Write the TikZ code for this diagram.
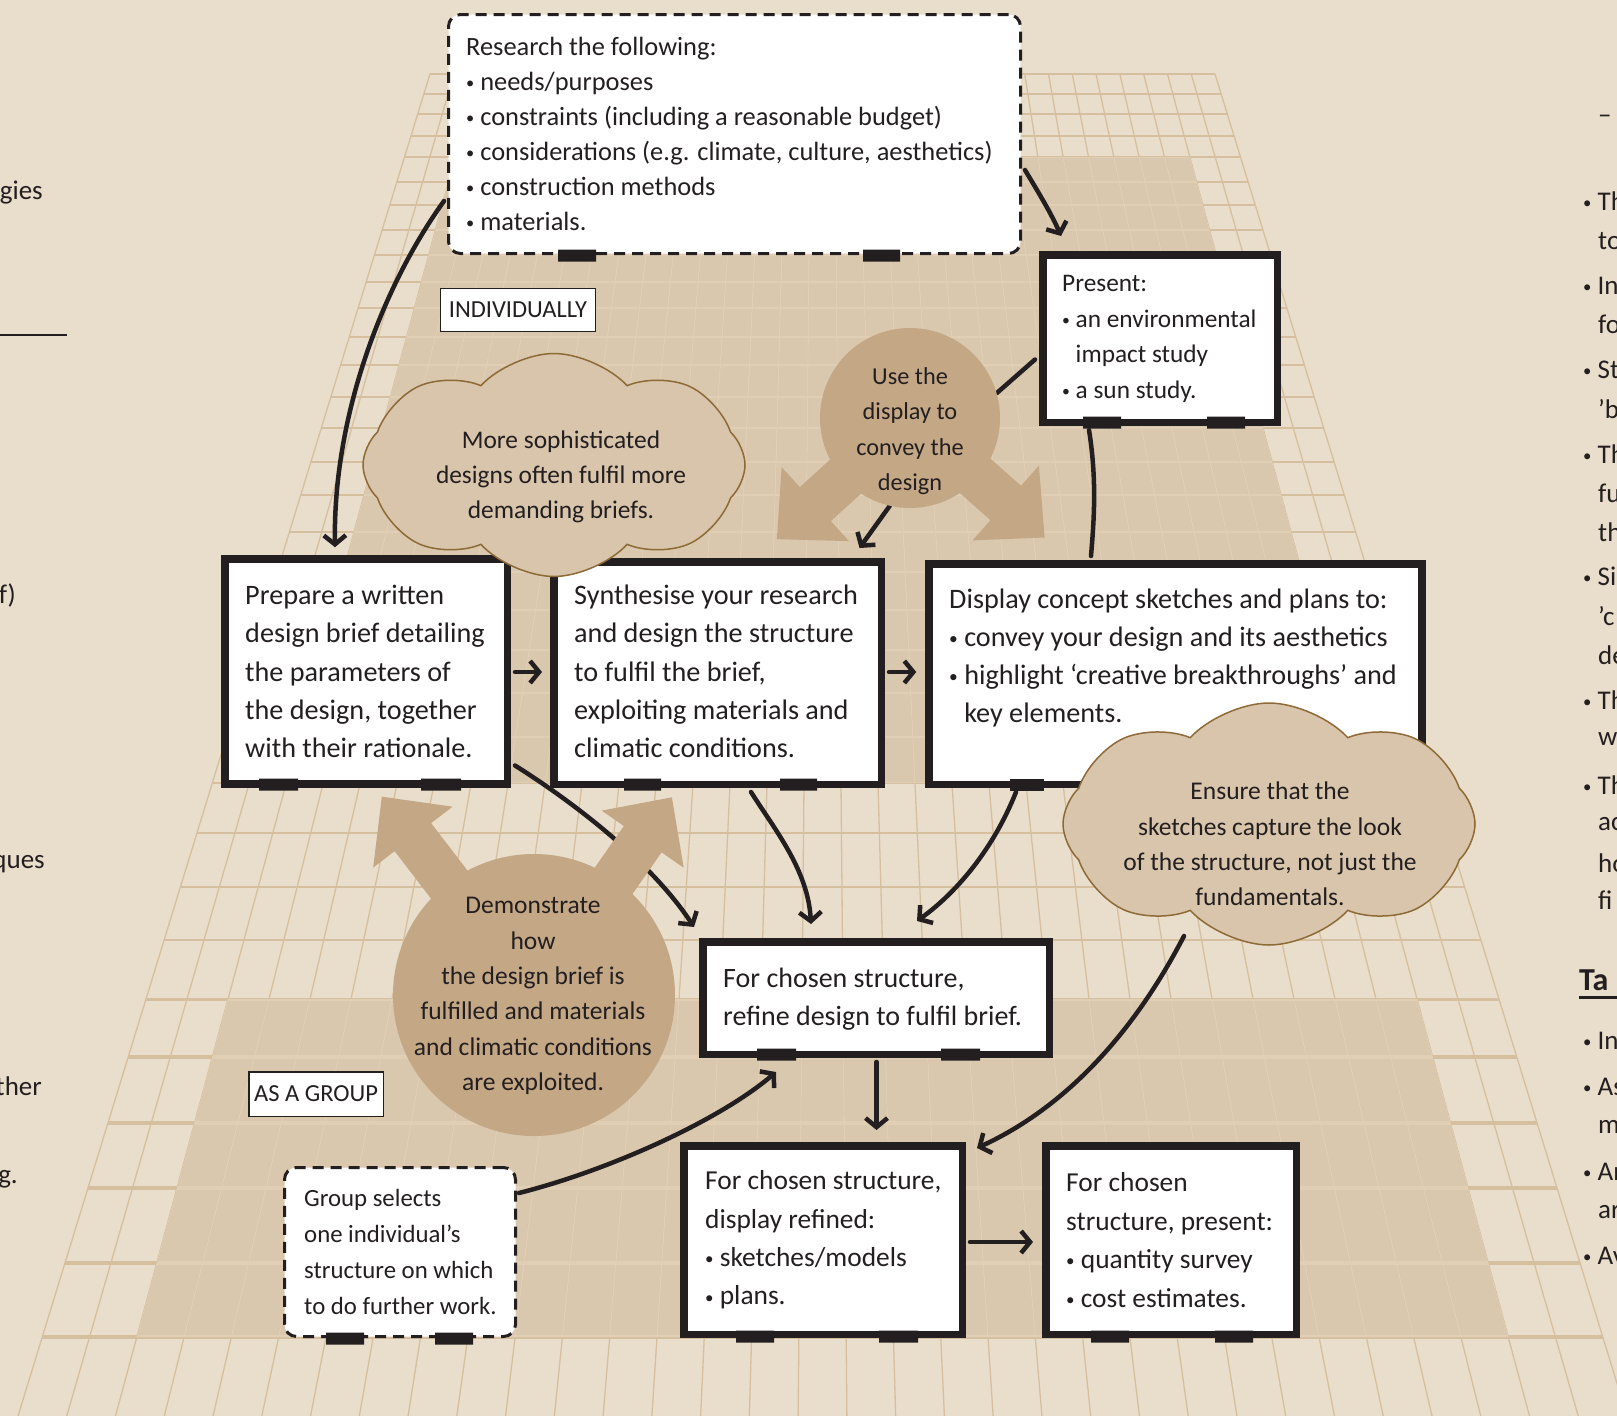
\documentclass[tikz,border=0pt]{standalone}
\usepackage{fontspec}
\setmainfont{Carlito}
\usetikzlibrary{arrows.meta,shapes.symbols,calc}
\definecolor{bg}{HTML}{E9DDCB}
\definecolor{gridc}{HTML}{D6BF9F}
\definecolor{gridl}{HTML}{E0CEB5}
\definecolor{shadec}{HTML}{D9C7AE}
\definecolor{circf}{HTML}{C4A785}
\definecolor{cloudf}{HTML}{D8C5AB}
\definecolor{cloudd}{HTML}{8E6A36}
\definecolor{ink}{HTML}{231F20}
\newcommand{\fs}[2]{\fontsize{#1pt}{#2pt}\selectfont}
\newcommand{\bul}{\raisebox{0.07em}{\scalebox{0.62}{\textbullet}}\ }
\tikzset{
  box/.style={draw=ink, line width=7.5pt, fill=white, inner sep=0pt, rectangle},
  dbox/.style={draw=ink, line width=3pt, dash pattern=on 11pt off 7pt, fill=white, rounded corners=12pt, inner sep=0pt, rectangle},
  tag/.style={draw=ink, line width=1.5pt, fill=white, inner sep=0pt, text=ink, font=\fs{24.5}{26}},
  conn/.style={draw=ink, line width=4.5pt, line cap=round, -{Straight Barb[length=9pt,width=22pt]}},
  link/.style={draw=ink, line width=4.5pt, line cap=round},
  txt/.style={inner sep=0pt, align=left, text=ink, anchor=west},
  ctxt/.style={inner sep=0pt, align=center, text=ink},
  side/.style={inner sep=0pt, text=ink, font=\fs{27}{32}},
  puff/.style={cloud, cloud puffs=8, cloud puff arc=95, cloud ignores aspect, fill=cloudf, draw=cloudd, line width=1.5pt, inner sep=0pt},
  disc/.style={circle, fill=circf, inner sep=0pt}
}
\begin{document}
\begin{tikzpicture}[x=1pt,y=-1pt]
\useasboundingbox (0,0) rectangle (1617,1416);
\clip (0,0) rectangle (1617,1416);
% background and floor grid
\fill[bg] (0,0) rectangle (1617,1416);
\fill[shadec] (455.2,157) -- (1189.9,157) -- (1358.8,783) -- (286.3,783) -- cycle;
\fill[shadec] (228,999) -- (1417.1,999) -- (1508.3,1337) -- (136.8,1337) -- cycle;
\foreach \i in {0,...,33}{
  \pgfmathsetmacro\xt{430+\i*23.788}
  \pgfmathsetmacro\xb{18+\i*48.758}
  \draw[gridc,line width=1.3pt] (\xt,74) -- (\xb,1416);
}
\foreach \yy in {74,94,114,136,157,182,205,230,255,282,308,337,365,397,428,462,495,532,572,610,650,693,737,783,833,887,940,999,1057,1123,1188,1263,1337}{
  \pgfmathsetmacro\xl{430-0.307*(\yy-74)}
  \pgfmathsetmacro\xr{1215+0.307*(\yy-74)}
  \pgfmathsetmacro\lw{1.6+0.00149*(\yy-74)}
  \draw[gridc,line width=\lw pt] (\xl,\yy) -- (\xr,\yy);
}
\begin{scope}
  \clip (455.2,157) -- (1189.9,157) -- (1358.8,783) -- (286.3,783) -- cycle
        (228,999) -- (1417.1,999) -- (1508.3,1337) -- (136.8,1337) -- cycle;
  \foreach \i in {0,...,33}{
    \pgfmathsetmacro\xt{430+\i*23.788}
    \pgfmathsetmacro\xb{18+\i*48.758}
    \draw[gridl,line width=1.3pt] (\xt,74) -- (\xb,1416);
  }
  \foreach \yy in {157,182,205,230,255,282,308,337,365,397,428,462,495,532,572,610,650,693,737,783,999,1057,1123,1188,1263,1337}{
    \pgfmathsetmacro\xl{430-0.307*(\yy-74)}
    \pgfmathsetmacro\xr{1215+0.307*(\yy-74)}
    \pgfmathsetmacro\lw{1.6+0.00149*(\yy-74)}
    \draw[gridl,line width=\lw pt] (\xl,\yy) -- (\xr,\yy);
  }
\end{scope}

% boxes
\node[dbox, minimum width=572pt, minimum height=239pt] (research) at (734.5,134) {};
\node[box, minimum width=234.5pt, minimum height=167.5pt] (present) at (1160,338.5) {};
\node[box, minimum width=282.5pt, minimum height=225pt] (prep) at (366,671.5) {};
\node[box, minimum width=327.5pt, minimum height=222.5pt] (synth) at (717.5,673) {};
\node[box, minimum width=493pt, minimum height=220.5pt] (display) at (1175.5,674) {};
\node[box, minimum width=346.5pt, minimum height=112.5pt] (refine) at (876,998) {};
\node[box, minimum width=278.5pt, minimum height=188.5pt] (disref) at (823,1240) {};
\node[box, minimum width=250.5pt, minimum height=188.5pt] (final) at (1171,1240) {};
\node[dbox, minimum width=231pt, minimum height=169pt] (group) at (400,1252) {};
\node[tag, minimum width=155pt, minimum height=43pt] (indiv) at (518,310) {INDIVIDUALLY};
\node[tag, minimum width=134.5pt, minimum height=44.5pt] (asgroup) at (316,1094) {AS A GROUP};

% tabs on box bottoms
\fill[ink] (558,249.5) rectangle (596,261.5) (863,249.5) rectangle (900,261.5);
\fill[ink] (1083,416.5) rectangle (1121,428.5) (1207,416.5) rectangle (1245,428.5);
\fill[ink] (259,778.5) rectangle (298,790.5) (421,778.5) rectangle (461,790.5);
\fill[ink] (624,778.5) rectangle (661,790.5) (780,778.5) rectangle (817,790.5);
\fill[ink] (1010,778.5) rectangle (1044,790.5);
\fill[ink] (757,1048.5) rectangle (796,1060.5) (941,1048.5) rectangle (980,1060.5);
\fill[ink] (736,1330.5) rectangle (774,1342.5) (879,1330.5) rectangle (918,1342.5);
\fill[ink] (1091,1330.5) rectangle (1129,1342.5) (1215,1330.5) rectangle (1253,1342.5);
\fill[ink] (326,1332.5) rectangle (364,1344.5) (435,1332.5) rectangle (473,1344.5);

% circle and cloud nodes (defined for anchors, drawn later on top)
\path (910,418) node[disc, minimum size=180pt, fill=none] (circ1) {};
\path (534,995) node[disc, minimum size=282pt, fill=none] (circ2) {};
\path (554,465) node[puff, minimum width=382pt, minimum height=223pt, fill=none, draw=none] (cloud1) {};
\path (1269,824) node[puff, minimum width=412pt, minimum height=242pt, fill=none, draw=none] (cloud2) {};

% connectors
\draw[conn] ($(research.west)+(-3,67)$) .. controls (380,290) and (333,420) .. ($(prep.north)+(-31,-8)$);
\draw[conn] ($(research.east)+(3,36)$) .. controls (1040,195) and (1052,215) .. ($(present.north)+(-99,-15)$);
\draw[link] ($(present.west)+(-4,21)$) -- (circ1.16);
\draw[conn] (circ1.-103) -- ($(synth.north)+(142,-10)$);
\draw[link] ($(present.south)+(-71,4)$) .. controls (1097,480) and (1094,520) .. ($(display.north)+(-84.5,-4)$);
\draw[conn] ($(prep.east)+(4,0.5)$) -- ($(synth.west)+(-8,-1)$);
\draw[conn] ($(synth.east)+(4,-1)$) -- ($(display.west)+(-9,-2)$);
\draw[conn] ($(prep.east)+(4,94)$) .. controls (570,800) and (650,860) .. ($(refine.north west)+(-5,-11)$);
\draw[conn] ($(synth.south)+(33.5,4)$) .. controls (775,830) and (808,870) .. ($(refine.north)+(-65,-14)$);
\draw[conn] ($(display.south)+(-159.5,4)$) .. controls (995,845) and (960,890) .. ($(refine.north)+(41,-17)$);
\draw[conn] ($(refine.south)+(0.5,4)$) -- ($(disref.north)+(53.5,-12)$);
\draw[conn] ($(cloud2.center)+(-85,112)$) .. controls (1130,1040) and (1060,1110) .. ($(disref.north east)+(11,6)$);
\draw[conn] ($(disref.east)+(4,2)$) -- ($(final.west)+(-9,2)$);
\draw[conn] ($(group.east)+(2,-59)$) .. controls (610,1170) and (720,1120) .. ($(refine.south)+(-100,14)$);

% discs with broad arrows
\node[disc, minimum size=180pt] at (circ1.center) {};
\fill[circf, shift={(910,418)}, rotate=-137.7] (0,-23) -- (128,-23) -- (128,-50) -- (180,0) -- (128,50) -- (128,23) -- (0,23) -- cycle;
\fill[circf, shift={(910,418)}, rotate=-41.6] (0,-23) -- (128,-23) -- (128,-50) -- (180,0) -- (128,50) -- (128,23) -- (0,23) -- cycle;
\node[disc, minimum size=282pt] at (circ2.center) {};
\fill[circf, shift={(534,995)}, rotate=127.5] (0,-23) -- (199,-23) -- (199,-50) -- (250,0) -- (199,50) -- (199,23) -- (0,23) -- cycle;
\fill[circf, shift={(534,995)}, rotate=55.1] (0,-23) -- (190,-23) -- (190,-50) -- (241,0) -- (190,50) -- (190,23) -- (0,23) -- cycle;

% clouds
\node[puff, minimum width=382pt, minimum height=223pt] at (cloud1.center) {};
\node[puff, minimum width=412pt, minimum height=242pt] at (cloud2.center) {};

% texts
\node[txt, font=\fs{26.4}{35}] (researchtxt) at (466,134) {Research the following:\\ \bul needs/purposes\\ \bul constraints (including a reasonable budget)\\ \bul considerations (e.g. climate, culture, aesthetics)\\ \bul construction methods\\ \bul materials.};
\node[txt, font=\fs{25.3}{35.5}] (presenttxt) at (1062,339) {Present:\\ \bul an environmental\\ \phantom{\bul}impact study\\ \bul a sun study.};
\node[txt, font=\fs{28.2}{38.2}] (preptxt) at (245,671.5) {Prepare a written\\ design brief detailing\\ the parameters of\\ the design, together\\ with their rationale.};
\node[txt, font=\fs{28.2}{38.2}] (synthtxt) at (574,671.5) {Synthesise your research\\ and design the structure\\ to fulfil the brief,\\ exploiting materials and\\ climatic conditions.};
\node[txt, font=\fs{28.2}{38.2}] (displaytxt) at (949,658) {Display concept sketches and plans to:\\ \bul convey your design and its aesthetics\\ \bul highlight ‘creative breakthroughs’ and\\ \phantom{\bul}key elements.};
\node[txt, font=\fs{28}{38}] (refinetxt) at (723,999) {For chosen structure,\\ refine design to fulfil brief.};
\node[txt, font=\fs{27.4}{38.4}] (disreftxt) at (705,1240) {For chosen structure,\\ display refined:\\ \bul sketches/models\\ \bul plans.};
\node[txt, font=\fs{27.4}{38.4}] (finaltxt) at (1066,1240) {For chosen\\ structure, present:\\ \bul quantity survey\\ \bul cost estimates.};
\node[txt, font=\fs{24.8}{35.7}] (grouptxt) at (304,1252) {Group selects\\ one individual’s\\ structure on which\\ to do further work.};
\node[ctxt, font=\fs{25.4}{35}] (cloud1txt) at (561,477) {More sophisticated\\ designs often fulfil more\\ demanding briefs.};
\node[ctxt, font=\fs{25.5}{35.3}] (cloud2txt) at (1270,844) {Ensure that the\\ sketches capture the look\\ of the structure, not just the\\ fundamentals.};
\node[ctxt, font=\fs{24.3}{35.3}] (circ1txt) at (910,431) {Use the\\ display to\\ convey the\\ design};
\node[ctxt, font=\fs{25.5}{35.4}] (circ2txt) at (533,996) {Demonstrate\\ how\\ the design brief is\\ fulfilled and materials\\ and climatic conditions\\ are exploited.};

% page text cut by the frame
\draw[ink, line width=1.5pt] (0,335) -- (67,335);
\node[side, anchor=east] (l1) at (43,193) {gies};
\node[side, anchor=east] (l2) at (16,595) {f)};
\node[side, anchor=east] (l3) at (45,864) {ques};
\node[side, anchor=east] (l4) at (42,1086) {ther};
\node[side, anchor=east] (l5) at (18,1179) {g.};
\node[side, anchor=west] (r0) at (1598,119) {–};
\node[side, anchor=west] (r1) at (1583,201) {\bul Th};
\node[side, anchor=west] (r2) at (1598,241) {to};
\node[side, anchor=west] (r3) at (1583,286) {\bul In};
\node[side, anchor=west] (r4) at (1598,324) {fo};
\node[side, anchor=west] (r5) at (1583,370) {\bul St};
\node[side, anchor=west] (r6) at (1598,409) {'b};
\node[side, anchor=west] (r7) at (1583,454) {\bul Th};
\node[side, anchor=west] (r8) at (1598,493) {fu};
\node[side, anchor=west] (r9) at (1598,532) {th};
\node[side, anchor=west] (r10) at (1583,576) {\bul Si};
\node[side, anchor=west] (r11) at (1598,616) {'c};
\node[side, anchor=west] (r12) at (1598,655) {de};
\node[side, anchor=west] (r13) at (1583,700) {\bul Th};
\node[side, anchor=west] (r14) at (1598,739) {we};
\node[side, anchor=west] (r15) at (1583,785) {\bul Th};
\node[side, anchor=west] (r16) at (1598,824) {ac};
\node[side, anchor=west] (r17) at (1598,863) {ho};
\node[side, anchor=west] (r18) at (1598,900) {fi};
\node[side, anchor=west, font=\fs{32}{36}\bfseries] (r19) at (1579,980) {Ta};
\draw[ink, line width=3pt] (1579,997) -- (1617,997);
\node[side, anchor=west] (r20) at (1583,1041) {\bul In};
\node[side, anchor=west] (r21) at (1583,1087) {\bul As};
\node[side, anchor=west] (r22) at (1598,1127) {m};
\node[side, anchor=west] (r23) at (1583,1172) {\bul An};
\node[side, anchor=west] (r24) at (1598,1212) {ar};
\node[side, anchor=west] (r25) at (1583,1256) {\bul Av};
\end{tikzpicture}
\end{document}
